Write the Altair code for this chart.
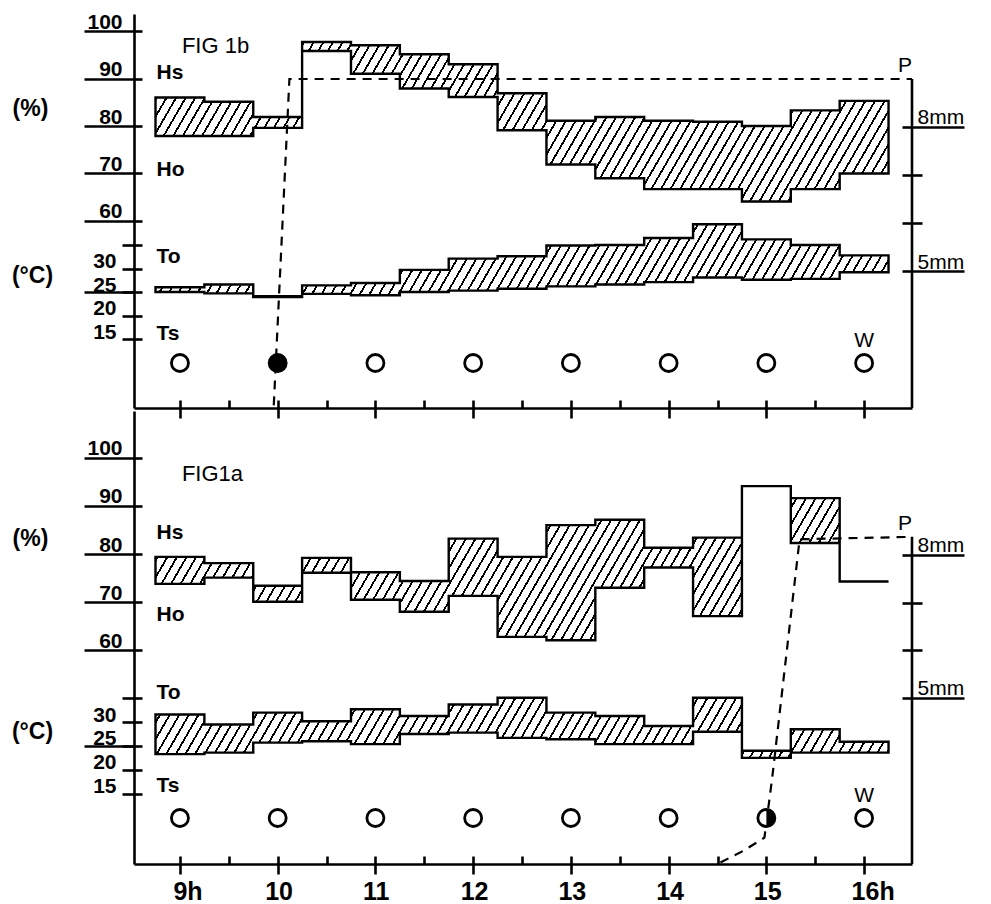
import math

import altair as alt
import pandas as pd

# half-hour reading intervals (start of each step) and end of the last one
SEG_START = [8.75, 9.25, 9.75, 10.25, 10.75, 11.25, 11.75, 12.25,
             12.75, 13.25, 13.75, 14.25, 14.75, 15.25, 15.75]
SEG_END = 16.25

# FIG 1b (upper panel)
B_HS = [86.0, 85.1, 81.9, 97.7, 97.0, 95.1, 93.0, 86.9, 81.1, 81.9, 81.1, 80.9, 80.0, 83.3, 85.3]
B_HO = [77.9, 77.9, 79.6, 95.8, 91.0, 87.9, 86.1, 79.1, 71.9, 69.0, 66.7, 66.7, 64.1, 66.7, 70.0]
B_TO = [26.0, 26.6, 24.1, 26.4, 26.9, 29.7, 32.1, 32.6, 34.9, 35.0, 36.5, 39.4, 36.2, 35.0, 32.8]
B_TS = [25.0, 24.7, 23.9, 24.6, 24.3, 25.0, 25.3, 25.7, 26.2, 26.6, 27.1, 28.1, 27.6, 27.8, 29.2]
B_P_TIME = [9.96, 10.12, 16.49]
B_P_MM = [2.2, 9.0, 9.0]

# FIG 1a (lower panel)
A_HS = [79.4, 78.1, 73.4, 79.2, 76.2, 74.4, 83.2, 79.4, 86.0, 87.1, 81.3, 83.4, 94.1, 91.6, 74.3]
A_HO = [73.8, 75.1, 70.1, 76.1, 70.5, 68.0, 71.3, 62.8, 62.1, 73.0, 77.2, 67.1, 94.1, 82.3, 74.3]
A_TO = [31.6, 29.5, 32.0, 30.2, 32.7, 31.3, 33.7, 35.1, 32.0, 31.3, 29.2, 35.1, 24.0, 28.5, 25.9]
A_TS = [23.3, 23.6, 25.7, 26.0, 25.4, 27.5, 27.8, 26.7, 26.4, 25.4, 25.4, 28.0, 22.5, 23.6, 23.6]
A_P_TIME = [14.53, 14.76, 14.98, 15.06, 15.34, 16.49]
A_P_MM = [1.55, 1.79, 2.07, 3.33, 8.33, 8.38]

# weather symbols
W_HOURS = [9, 10, 11, 12, 13, 14, 15, 16]
B_W = ["clear", "rain", "clear", "clear", "clear", "clear", "clear", "clear"]
A_W = ["clear", "clear", "clear", "clear", "clear", "clear", "shower", "clear"]

HOUR_TICKS = [9, 10, 11, 12, 13, 14, 15, 16]
HALF_TICKS = [9, 9.5, 10, 10.5, 11, 11.5, 12, 12.5, 13, 13.5, 14, 14.5, 15, 15.5, 16]

FONT = "Liberation Sans"
NARROW = "Liberation Sans Narrow, Liberation Sans"
WIDTH = 778
X_DOM = [8.53, 16.49]

BASE_AXIS = dict(domainColor="black", tickColor="black", domainWidth=2.6, tickWidth=2.6,
                 labelColor="black", labelFont=FONT, labelFontSize=21, labelFontWeight="bold",
                 labelOverlap=False, labelFlush=False, labelBound=False, grid=False,
                 titleColor="black", titleFont=FONT, titleFontSize=23, titleFontWeight="bold")


def axis(**kw):
    opts = dict(BASE_AXIS)
    opts.update(kw)
    if "title" not in opts:
        opts["title"] = None
    return alt.Axis(**opts)


def hatch(w_px, h_px):
    """Diagonal hatch as a hard-stop linear gradient over the mark's box"""
    nx, ny = math.sin(math.radians(60)), math.cos(math.radians(60))
    c, e = nx * w_px, ny * h_px
    span = c + e
    k = span / (c * c + e * e)
    step, lw = 9.6 * nx, 1.8
    stops = [alt.GradientStop(color="white", offset=0)]
    pos = step / 2
    while pos - lw / 2 < span:
        a0 = round(max(0.0, (pos - lw / 2) / span), 5)
        a1 = round(min(1.0, (pos + lw / 2) / span), 5)
        stops += [alt.GradientStop(color="white", offset=a0),
                  alt.GradientStop(color="black", offset=a0),
                  alt.GradientStop(color="black", offset=a1),
                  alt.GradientStop(color="white", offset=a1)]
        pos += step
    return alt.LinearGradient(gradient="linear", stops=stops,
                              x1=0, y1=0, x2=round(k * c, 5), y2=round(k * e, 5))


def xq(field, ax=None):
    return alt.X(f"{field}:Q", scale=alt.Scale(domain=X_DOM, nice=False, zero=False),
                 axis=ax, title=None)


def yq(field, dom, ax=None):
    return alt.Y(f"{field}:Q", scale=alt.Scale(domain=dom, nice=False, zero=False),
                 axis=ax, title=None)


def panel(spec):
    h = spec["height"]
    hd, td, md = spec["hum_dom"], spec["tmp_dom"], spec["mm_dom"]
    bands = pd.DataFrame({
        "t": SEG_START + [SEG_END],
        "hs": spec["hs"] + spec["hs"][-1:], "ho": spec["ho"] + spec["ho"][-1:],
        "to": spec["to"] + spec["to"][-1:], "ts": spec["ts"] + spec["ts"][-1:],
    })
    rain = pd.DataFrame({"t": spec["p_time"], "p": spec["p_mm"]})
    rain_end = pd.DataFrame({"t": [X_DOM[1]], "p": [spec["p_mm"][-1]], "p0": [md[0]]})
    weather = pd.DataFrame({"t": W_HOURS, "w": spec["w"]})

    px_x = WIDTH / (X_DOM[1] - X_DOM[0])
    band_w = (SEG_END - SEG_START[0]) * px_x
    hum_fill = hatch(band_w, (max(spec["hs"]) - min(spec["ho"])) * h / (hd[1] - hd[0]))
    tmp_fill = hatch(band_w, (max(spec["to"]) - min(spec["ts"])) * h / (td[1] - td[0]))

    x_major = axis(orient="bottom", values=HOUR_TICKS, tickSize=10,
                   labels=spec["x_labels"], labelFont=NARROW, labelFontSize=25,
                   labelPadding=5, labelAlign="left",
                   labelOffset={"condition": {"test": "datum.value >= 10", "value": -13},
                                "value": -7},
                   labelExpr="datum.value == 9 ? '9h' : datum.value == 16 ? '16h' : datum.label")
    x_minor = axis(orient="top", offset=-h, values=HALF_TICKS, tickSize=8,
                   labels=False, domain=False)

    hum_axis = axis(orient="left", values=[60, 70, 80, 90, 100], tickSize=50,
                    labelPadding=-38, labelBaseline="alphabetic", labelOffset=-3,
                    title="(%)", titleAngle=0, titleAlign="center", titleBaseline="middle",
                    titleX=-104, titleY=spec["pct_y"])
    hum_in = axis(orient="right", offset=-WIDTH, values=[60, 70, 80, 90, 100], tickSize=8,
                  labels=False, domain=False)
    tmp_axis = axis(orient="left", values=[15, 20, 25, 30, 35], tickSize=12,
                    labelPadding=6, labelBaseline="alphabetic", labelOffset=-1, domain=False,
                    labelExpr="datum.value == 35 ? '' : datum.label",
                    title="(°C)", titleAngle=0, titleAlign="center", titleBaseline="middle",
                    titleX=-102, titleY=spec["deg_y"])
    tmp_in = axis(orient="right", offset=-WIDTH, values=[15, 20, 25, 30, 35], tickSize=8,
                  labels=False, domain=False)
    tmp_25 = axis(orient="left", values=[25], tickSize=50, labels=False, domain=False)
    mm_axis = axis(orient="right", values=[5, 8], tickSize=52, labelPadding=-47,
                   labelBaseline="alphabetic", labelOffset=-3, labelFontWeight="normal",
                   labelExpr="datum.value + 'mm'", domain=False)
    mm_mid = axis(orient="right", values=[6, 7], tickSize=10, labels=False, domain=False)
    mm_in = axis(orient="left", offset=-WIDTH, values=[5, 6, 7, 8], tickSize=10,
                 labels=False, domain=False)

    ghost = alt.Chart(bands).mark_point(opacity=0, size=1)

    layers = [
        alt.Chart(bands).mark_area(interpolate="step-after", fill=hum_fill, stroke="black",
                                   strokeWidth=2.4).encode(
            x=xq("t", x_major), y=yq("hs", hd, hum_axis), y2="ho:Q"),
        ghost.encode(x=xq("t", x_minor), y=yq("hs", hd, hum_in)),
        alt.Chart(bands).mark_area(interpolate="step-after", fill=tmp_fill, stroke="black",
                                   strokeWidth=2.4).encode(
            x=xq("t"), y=yq("to", td, tmp_axis), y2="ts:Q"),
        ghost.encode(x=xq("t"), y=yq("to", td, tmp_in)),
        ghost.encode(x=xq("t"), y=yq("to", td, tmp_25)),
        alt.Chart(rain).mark_line(color="black", strokeWidth=2.2, strokeDash=[9, 7]).encode(
            x=xq("t"), y=yq("p", md, mm_axis)),
        alt.Chart(rain).mark_point(opacity=0, size=1).encode(x=xq("t"), y=yq("p", md, mm_mid)),
        alt.Chart(rain).mark_point(opacity=0, size=1).encode(x=xq("t"), y=yq("p", md, mm_in)),
        alt.Chart(rain_end).mark_rule(color="black", strokeWidth=2.6).encode(
            x=xq("t"), y=yq("p", md), y2="p0:Q"),
        alt.Chart(rain_end).mark_text(text="P", font=FONT, fontSize=21, align="right",
                                      baseline="alphabetic", dy=-7, color="black").encode(
            x=xq("t"), y=yq("p", md)),
        alt.Chart(weather).mark_point(shape="circle", filled=True, size=290, stroke="black",
                                      strokeWidth=2.8, opacity=1).encode(
            x=xq("t"), y=alt.value(spec["w_row"]),
            fill=alt.Fill("w:N", scale=alt.Scale(domain=["clear", "rain", "shower"],
                                                 range=["white", "black", "white"]),
                          legend=None)),
        alt.Chart(weather).transform_filter("datum.w == 'shower'").mark_arc(
            radius=9, theta=0, theta2=math.pi, color="black").encode(
            x=xq("t"), y=alt.value(spec["w_row"])),
        alt.Chart(weather.tail(1)).mark_text(text="W", font=FONT, fontSize=21,
                                             baseline="alphabetic", dy=-16,
                                             color="black").encode(
            x=xq("t"), y=alt.value(spec["w_row"])),
        alt.Chart(spec["hum_text"]).mark_text(font=FONT, fontSize=21, fontWeight="bold",
                                              align="left", baseline="alphabetic",
                                              color="black").encode(
            x=xq("t"), y=yq("v", hd), text="s:N"),
        alt.Chart(spec["fig_text"]).mark_text(font=NARROW, fontSize=22, align="left",
                                              baseline="alphabetic", color="black").encode(
            x=xq("t"), y=yq("v", hd), text="s:N"),
        alt.Chart(spec["tmp_text"]).mark_text(font=FONT, fontSize=21, fontWeight="bold",
                                              align="left", baseline="alphabetic",
                                              color="black").encode(
            x=xq("t"), y=yq("v", td), text="s:N"),
    ]
    return alt.layer(*layers).resolve_scale(x="independent", y="independent").properties(
        width=WIDTH, height=h)


top = panel(dict(
    height=394, hum_dom=[20.63, 103.58], tmp_dom=[0.32, 84.15], mm_dom=[2.146, 10.354],
    hs=B_HS, ho=B_HO, to=B_TO, ts=B_TS, p_time=B_P_TIME, p_mm=B_P_MM, w=B_W,
    w_row=349, pct_y=94, deg_y=261, x_labels=False,
    hum_text=pd.DataFrame({"s": ["Hs", "Ho"], "t": [8.76, 8.76], "v": [90.0, 69.5]}),
    fig_text=pd.DataFrame({"s": ["FIG 1b"], "t": [9.02], "v": [95.4]}),
    tmp_text=pd.DataFrame({"s": ["To", "Ts"], "t": [8.76, 8.76], "v": [31.1, 14.7]}),
))

bottom = panel(dict(
    height=453, hum_dom=[15.62, 109.70], tmp_dom=[0.26, 95.23], mm_dom=[1.518, 11.02],
    hs=A_HS, ho=A_HO, to=A_TO, ts=A_TS, p_time=A_P_TIME, p_mm=A_P_MM, w=A_W,
    w_row=407, pct_y=127, deg_y=320, x_labels=True,
    hum_text=pd.DataFrame({"s": ["Hs", "Ho"], "t": [8.76, 8.76], "v": [83.1, 66.1]}),
    fig_text=pd.DataFrame({"s": ["FIG1a"], "t": [9.02], "v": [95.2]}),
    tmp_text=pd.DataFrame({"s": ["To", "Ts"], "t": [8.76, 8.76], "v": [34.9, 15.4]}),
))

chart = alt.vconcat(top, bottom, spacing=3, bounds="flush").properties(
    padding={"left": 3, "top": 3, "right": 0, "bottom": 2},
    background="white",
).configure_view(stroke=None)

chart.save("out.html", embed_options={"renderer": "svg", "actions": False})
